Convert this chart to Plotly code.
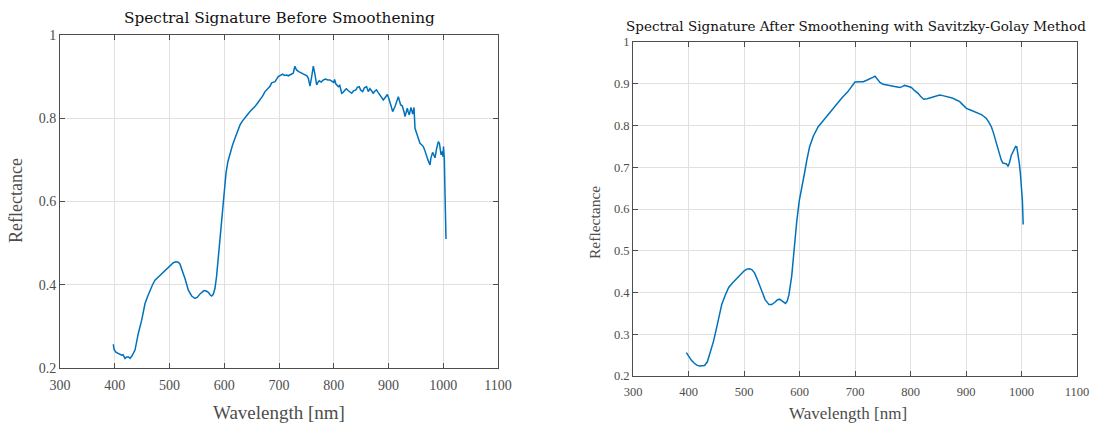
import plotly.graph_objects as go

# ---- data: raw spectrum (left) ----
raw_wl = [397.4, 398.6, 402, 406.5, 410, 412.6, 415, 418.7, 421, 424.8, 427.9, 431, 437, 443, 449.2, 455.3, 460, 464.4,
          469, 473.5, 480, 485.7, 492, 497.9, 503, 507, 512, 516, 519, 522.2, 528.3, 534.4, 540.5, 546.6, 551, 555.7,
          560, 563, 567, 571, 574, 577, 580, 583, 586, 589, 592, 595.3, 598.3, 603.2, 606.5, 610.5, 615, 619.6, 624,
          628.8, 633, 637.9, 642, 647, 651, 656, 660, 665.3, 670, 674.4, 680, 683.6, 686.6, 692.7, 698.7, 703, 706.7,
          710, 714, 717, 721, 726, 729, 732, 736, 741, 744, 747.5, 751, 753.6, 756.6, 759.7, 762.7, 765.8, 768.8, 771,
          773.6, 777, 781, 785, 789, 793, 797, 800, 801.5, 804, 808.4, 811, 814.5, 817, 820.6, 823, 826.7, 830, 832.8,
          836, 840.6, 843, 846.7, 849, 852.8, 856, 860, 863, 866, 869, 872, 875, 878, 881, 884.5, 887, 890.5, 894,
          897.9, 900, 902.7, 905, 907.6, 909.5, 911.9, 915, 918, 920, 922.3, 925, 927, 928.5, 930.1, 932, 934.4, 936,
          938, 941, 942.5, 944.2, 946.6, 948.4, 951.4, 954, 957.5, 960, 963.6, 966, 969.7, 972, 975.8, 977.5, 980.6,
          983, 985, 988, 991, 993, 996, 998, 999.5, 1000.5, 1002, 1002.8, 1003.8, 1005]
raw_refl = [0.257, 0.245, 0.238, 0.235, 0.233, 0.231, 0.232, 0.223, 0.226, 0.227, 0.223, 0.228, 0.243, 0.283, 0.315,
            0.355, 0.372, 0.387, 0.400, 0.411, 0.419, 0.426, 0.435, 0.443, 0.449, 0.453, 0.455, 0.454, 0.450, 0.439,
            0.415, 0.387, 0.373, 0.367, 0.370, 0.378, 0.383, 0.386, 0.385, 0.382, 0.376, 0.373, 0.377, 0.391, 0.420,
            0.467, 0.508, 0.550, 0.604, 0.668, 0.695, 0.716, 0.735, 0.752, 0.769, 0.784, 0.793, 0.800, 0.808, 0.816,
            0.821, 0.828, 0.835, 0.844, 0.853, 0.864, 0.872, 0.877, 0.885, 0.888, 0.900, 0.903, 0.906, 0.903, 0.904,
            0.902, 0.904, 0.908, 0.925, 0.916, 0.912, 0.908, 0.906, 0.904, 0.902, 0.896, 0.877, 0.900, 0.925, 0.904,
            0.880, 0.886, 0.890, 0.887, 0.892, 0.894, 0.892, 0.892, 0.889, 0.886, 0.893, 0.882, 0.876, 0.879, 0.860,
            0.862, 0.868, 0.871, 0.866, 0.862, 0.860, 0.866, 0.868, 0.874, 0.876, 0.868, 0.864, 0.873, 0.876, 0.864,
            0.871, 0.866, 0.860, 0.865, 0.868, 0.862, 0.856, 0.852, 0.844, 0.850, 0.857, 0.850, 0.840, 0.828, 0.816,
            0.820, 0.828, 0.840, 0.852, 0.842, 0.832, 0.830, 0.824, 0.815, 0.804, 0.812, 0.824, 0.815, 0.808, 0.826,
            0.815, 0.810, 0.826, 0.776, 0.764, 0.752, 0.740, 0.737, 0.732, 0.724, 0.708, 0.700, 0.688, 0.705, 0.718,
            0.712, 0.705, 0.728, 0.744, 0.740, 0.712, 0.720, 0.708, 0.732, 0.700, 0.645, 0.556, 0.510]

# ---- data: Savitzky-Golay smoothed spectrum (right) ----
sg_wl = [396.1, 400, 405, 410, 415, 420, 425, 429, 434, 438.3, 445, 450.7, 455, 460, 466, 472.4, 480, 488, 495, 500.4,
         505, 509.6, 514, 519, 525, 531.4, 538, 545, 550, 555, 560, 564, 569, 574.8, 578, 581, 586, 590.3, 595, 599.6,
         604, 608.9, 613, 618.2, 625, 633.7, 640, 649.2, 658, 667.8, 677, 686.5, 694, 700, 708, 715, 722, 728, 733,
         736, 740, 745, 750.6, 757, 765.6, 773, 780.6, 785, 789.6, 795, 801.6, 807, 813.6, 818, 823.8, 830, 837.6,
         845, 852.6, 860, 867.6, 875, 882.7, 888, 891.7, 896, 900.7, 908, 915.7, 922, 927.7, 933, 936.7, 941, 945.7,
         950, 954.7, 959, 963.7, 966.5, 969.7, 973, 975.7, 978.5, 981.7, 986, 989.5, 991.5, 993.7, 996, 998, 1000,
         1001.6, 1003]
sg_refl = [0.256, 0.247, 0.238, 0.231, 0.226, 0.224, 0.224, 0.225, 0.234, 0.252, 0.283, 0.316, 0.345, 0.372, 0.393,
           0.412, 0.424, 0.436, 0.446, 0.452, 0.456, 0.457, 0.455, 0.447, 0.428, 0.404, 0.383, 0.371, 0.371, 0.376,
           0.382, 0.384, 0.380, 0.374, 0.380, 0.395, 0.440, 0.508, 0.570, 0.620, 0.656, 0.685, 0.716, 0.749, 0.775,
           0.797, 0.807, 0.822, 0.836, 0.853, 0.867, 0.880, 0.893, 0.904, 0.905, 0.905, 0.909, 0.912, 0.916, 0.918,
           0.912, 0.903, 0.899, 0.897, 0.894, 0.893, 0.891, 0.893, 0.896, 0.894, 0.891, 0.884, 0.877, 0.870, 0.863,
           0.864, 0.867, 0.869, 0.873, 0.871, 0.869, 0.866, 0.861, 0.858, 0.853, 0.846, 0.841, 0.837, 0.833, 0.829,
           0.826, 0.821, 0.817, 0.808, 0.797, 0.780, 0.761, 0.738, 0.717, 0.710, 0.709, 0.708, 0.702, 0.712, 0.729,
           0.743, 0.750, 0.749, 0.733, 0.710, 0.685, 0.650, 0.620, 0.563]

x_ticks = [300, 400, 500, 600, 700, 800, 900, 1000, 1100]
titles = ["Spectral Signature Before Smoothening",
          "Spectral Signature After Smoothening with Savitzky-Golay Method"]
x_label = "Wavelength [nm]"
y_label = "Reflectance"

LINE = "#0072BD"
FONT = "Liberation Serif"
TFONT = "DejaVu Serif"
W, H = 1097, 425

fig = go.Figure()
fig.add_trace(go.Scatter(x=raw_wl, y=raw_refl, mode="lines", line=dict(color=LINE, width=1.5),
                         xaxis="x", yaxis="y", showlegend=False))
fig.add_trace(go.Scatter(x=sg_wl, y=sg_refl, mode="lines", line=dict(color=LINE, width=1.5),
                         xaxis="x2", yaxis="y2", showlegend=False))

def px_x(p):
    return p / W

def px_y(p):
    return 1 - p / H

def axis_style(size, standoff=0):
    d = dict(showline=True, linecolor="#4d4d4d", linewidth=1, mirror="ticks", ticks="inside",
             ticklen=5, tickcolor="#4d4d4d", showgrid=True, gridcolor="#e0e0e0", gridwidth=1,
             zeroline=False, automargin=False,
             tickfont=dict(family=FONT, color="#4d4d4d", size=size))
    if standoff:
        d["ticklabelstandoff"] = standoff
    return d

fig.update_layout(
    width=W, height=H, margin=dict(l=0, r=0, t=0, b=0, autoexpand=False),
    paper_bgcolor="white", plot_bgcolor="white",
    xaxis=dict(domain=[px_x(60), px_x(498)], range=[300, 1100], tickvals=x_ticks, anchor="y", **axis_style(14, 4)),
    yaxis=dict(domain=[px_y(368), px_y(35)], range=[0.2, 1], dtick=0.2, tick0=0.2, anchor="x", **axis_style(14)),
    xaxis2=dict(domain=[px_x(633), px_x(1077)], range=[300, 1100], tickvals=x_ticks, anchor="y2", **axis_style(12.5, 4)),
    yaxis2=dict(domain=[px_y(376), px_y(42)], range=[0.2, 1], dtick=0.1, tick0=0.2, anchor="x2", **axis_style(12.5)),
)

ann = [
    dict(text=titles[0], x=px_x(279), y=px_y(18), size=15.3, color="#111111", angle=0, family=TFONT),
    dict(text=titles[1], x=px_x(856), y=px_y(26), size=13.5, color="#111111", angle=0, family=TFONT),
    dict(text=x_label, x=px_x(279), y=px_y(412), size=19, color="#4d4d4d", angle=0, family=FONT),
    dict(text=x_label, x=px_x(848), y=px_y(413), size=17, color="#4d4d4d", angle=0, family=FONT),
    dict(text=y_label, x=px_x(16), y=px_y(201), size=18, color="#4d4d4d", angle=-90, family=FONT),
    dict(text=y_label, x=px_x(595), y=px_y(223), size=15.5, color="#4d4d4d", angle=-90, family=FONT),
]
for a in ann:
    fig.add_annotation(text=a["text"], x=a["x"], y=a["y"], xref="paper", yref="paper", showarrow=False,
                       xanchor="center", yanchor="middle", textangle=a["angle"],
                       font=dict(family=a["family"], size=a["size"], color=a["color"]))

fig.write_html("out.html", config={"displayModeBar": False, "staticPlot": True},
               post_script="document.body.style.margin='0px';document.body.style.overflow='hidden';")
